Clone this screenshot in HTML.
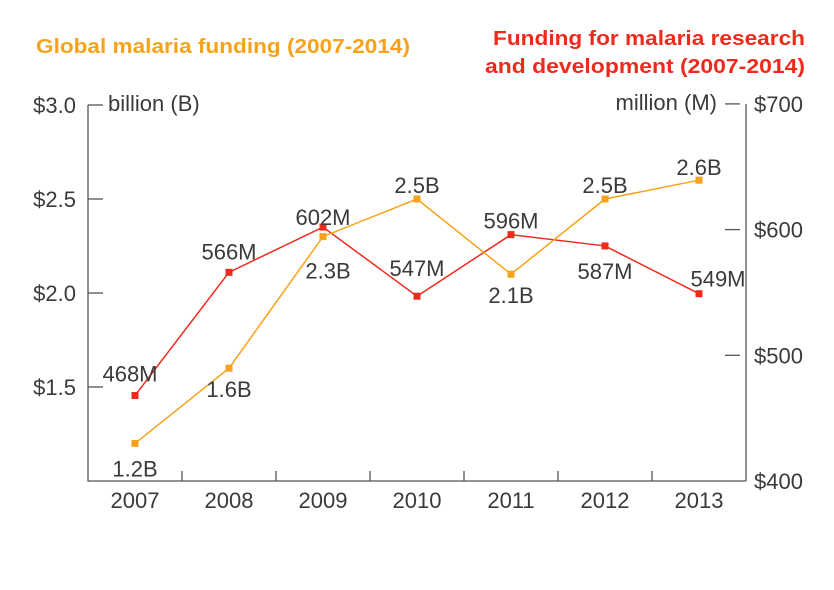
<!DOCTYPE html>
<html><head><meta charset="utf-8"><style>
body{margin:0;background:#fff;}
svg{display:block;font-family:"Liberation Sans",sans-serif;}
</style></head><body>
<svg width="834" height="590" viewBox="0 0 834 590">
<text x="36" y="53" font-size="20.5" font-weight="bold" fill="#f7a21b" textLength="374" lengthAdjust="spacingAndGlyphs">Global malaria funding (2007-2014)</text>
<text x="493" y="45" font-size="20.5" font-weight="bold" fill="#ee2a1c" textLength="312" lengthAdjust="spacingAndGlyphs">Funding for malaria research</text>
<text x="485" y="73" font-size="20.5" font-weight="bold" fill="#ee2a1c" textLength="320" lengthAdjust="spacingAndGlyphs">and development (2007-2014)</text>
<g id="axes" stroke="#555" stroke-width="1.3" fill="none"></g>
<g id="marks"></g>
</svg>
<script>
const years=["2007","2008","2009","2010","2011","2012","2013"];
const globalB=[1.2,1.6,2.3,2.5,2.1,2.5,2.6];
const rdM=[468,566,602,547,596,587,549];
const leftTicks=[1.5,2.0,2.5,3.0];
const leftTickLabels=["$1.5","$2.0","$2.5","$3.0"];
const rightTicks=[400,500,600,700];
const rightTickLabels=["$400","$500","$600","$700"];
const globalLabels=["1.2B","1.6B","2.3B","2.5B","2.1B","2.5B","2.6B"];
const rdLabels=["468M","566M","602M","547M","596M","587M","549M"];
// label offsets (style)
const gOff=[[0,26],[0,22],[5,35],[0,-13],[0,22],[0,-13],[0,-12]];
const rOff=[[-5,-21],[0,-20],[0,-9],[0,-27],[0,-13],[0,26],[19,-14]];
const NS="http://www.w3.org/2000/svg";
const FS=22;
const L=88,R=746,B=481;
const bw=(R-L)/years.length;
const xc=i=>L+bw*(i+0.5);
const yL=v=>B-(v-1)*188;
const yR=m=>B-(m-400)*1.257;
const axes=document.getElementById('axes'),marks=document.getElementById('marks');
function mk(t,a,p){const e=document.createElementNS(NS,t);for(const k in a)e.setAttribute(k,a[k]);(p||marks).appendChild(e);return e;}
let e;
e=mk('path',{d:`M${L},${yL(3)}V${B}H${R}`},axes);


e=mk('line',{x1:R,y1:yR(700),x2:R,y2:B},axes);


leftTicks.forEach((v,i)=>{
 e=mk('line',{x1:L,x2:L+15,y1:yL(v),y2:yL(v)},axes);
 
 
 e=mk('text',{x:76,y:yL(v)+8,'font-size':FS,fill:'#3a3a3a','text-anchor':'end'});
 e.textContent=leftTickLabels[i];
 
 
});
rightTicks.forEach((v,i)=>{
 if(v>400){e=mk('line',{x1:R-21,x2:R-6,y1:yR(v),y2:yR(v)},axes);
 
 }
 e=mk('text',{x:754,y:yR(v)+8,'font-size':FS,fill:'#3a3a3a'});
 e.textContent=rightTickLabels[i];
 
 
});
e=mk('text',{x:108,y:yL(3)+6,'font-size':FS,fill:'#3a3a3a'});e.textContent='billion (B)';


e=mk('text',{x:717,y:yR(700)+6,'font-size':FS,fill:'#3a3a3a','text-anchor':'end'});e.textContent='million (M)';


years.forEach((y,i)=>{
 if(i>0){e=mk('line',{x1:L+bw*i,x2:L+bw*i,y1:B-10,y2:B},axes);
 
 }
 e=mk('text',{x:xc(i),y:B+27,'font-size':FS,fill:'#3a3a3a','text-anchor':'middle'});e.textContent=y;
 
 
});
function series(vals,yf,col,labels,off,name){
 e=mk('polyline',{points:vals.map((v,i)=>xc(i)+','+yf(v)).join(' '),fill:'none',stroke:col,'stroke-width':1.5});
 
 
 vals.forEach((v,i)=>{
  e=mk('rect',{x:xc(i)-3.5,y:yf(v)-3.5,width:7,height:7,fill:col});
  
  
  e=mk('text',{x:xc(i)+off[i][0],y:yf(v)+off[i][1]+7,'font-size':FS,fill:'#3a3a3a','text-anchor':'middle'});
  e.textContent=labels[i];
  
  
 });
}
series(rdM,yR,'#ee2a1c',rdLabels,rOff,'rd-funding');
series(globalB,yL,'#f7a21b',globalLabels,gOff,'global-funding');
</script>
</body></html>
